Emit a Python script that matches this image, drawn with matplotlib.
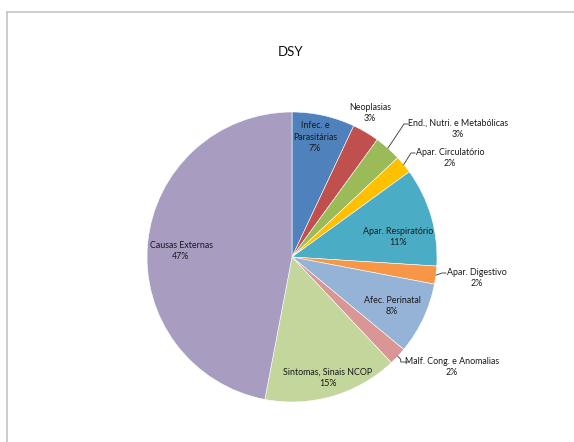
import numpy as np
import matplotlib
matplotlib.use("Agg")
import matplotlib.pyplot as plt
from matplotlib.lines import Line2D

plt.rcParams['font.family'] = ['Lato', 'DejaVu Sans']

# data
categories = ["Infec. e\nParasitárias", "Neoplasias", "End., Nutri. e Metabólicas",
              "Apar. Circulatório", "Apar. Respiratório", "Apar. Digestivo",
              "Afec. Perinatal", "Malf. Cong. e Anomalias",
              "Sintomas, Sinais NCOP", "Causas Externas"]
percent = [7, 3, 3, 2, 11, 2, 8, 2, 15, 47]
colors = ["#4F81BD", "#C0504D", "#9BBB59", "#FFC000", "#4BACC6",
          "#F79646", "#95B3D7", "#D99694", "#C3D69B", "#A89CC0"]
title = "DSY"

# layout in pixel coordinates (y measured from top)
W, H = 574, 442
center = (292, 257)
radius = 145
label_pos = [(315, 137), (370, 113), (458, 129), (450, 158), (398, 237),
             (477, 278), (392, 306), (452, 367), (328, 378), (181, 251)]
# label index -> leader end point (px)
leaders = {2: (408, 124), 3: (415, 153), 5: (446, 273), 7: (404, 362)}

fig = plt.figure(figsize=(W / 100, H / 100), dpi=100)
ax = fig.add_axes([0, 0, 1, 1])

wedges, _ = ax.pie(percent, colors=colors, startangle=90, counterclock=False,
                   center=(center[0], H - center[1]), radius=radius,
                   wedgeprops=dict(edgecolor='white', linewidth=0.4))
# pie() sets its own limits, so put the pixel frame back afterwards
ax.set_xlim(0, W)
ax.set_ylim(0, H)
ax.set_aspect('equal')
ax.axis('off')

for i, (name, p) in enumerate(zip(categories, percent)):
    x, y = label_pos[i]
    ax.text(x, H - y, f"{name}\n{p}%", ha='center', va='center',
            fontsize=6.4, color='#1a1a1a', linespacing=1.3)

# leader lines from the wedge middle to the label
for i, (ex, ey) in leaders.items():
    w = wedges[i]
    ang = np.deg2rad((w.theta1 + w.theta2) / 2)
    sx = center[0] + radius * np.cos(ang)
    sy = (H - center[1]) + radius * np.sin(ang)
    if i == 7:
        xs = [sx, sx + 3, sx + 3, ex + 4]
        ys = [sy, sy - 3, H - ey, H - ey]
    else:
        xs = [sx, ex - 4, ex]
        ys = [sy, H - ey, H - ey]
    ax.add_line(Line2D(xs, ys, color='#333333', lw=0.6))

ax.text(W / 2 + 4, H - 52, title, ha='center', va='center', fontsize=9.5, color='#111111')

# chart area frame (open at right and bottom)
ax.add_line(Line2D([6.5, W], [H - 11.8, H - 11.8], color='#C4C4C4', lw=1.2))
ax.add_line(Line2D([6.5, 6.5], [0, H - 11.8], color='#C4C4C4', lw=1.2))

fig.savefig("out.png", dpi=100)
